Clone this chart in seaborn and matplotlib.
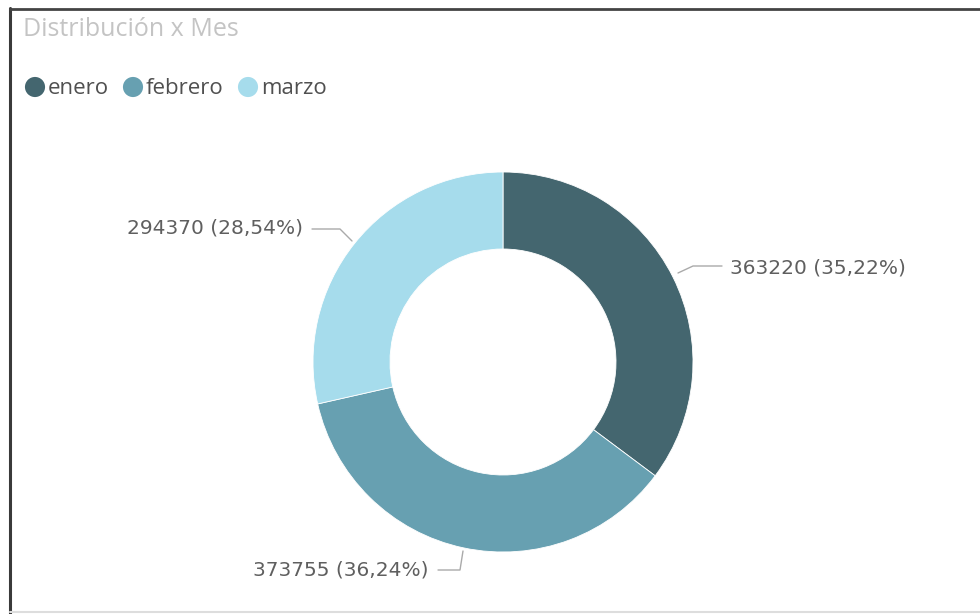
import matplotlib
matplotlib.use("Agg")
import matplotlib.pyplot as plt
import seaborn as sns

months = ["enero", "febrero", "marzo"]
values = [363220, 373755, 294370]
pct_labels = ["35,22%", "36,24%", "28,54%"]
colors = ["#44666f", "#67a0b1", "#a6dcec"]
title = "Distribución x Mes"

sns.set_theme(style="white")
plt.rcParams["font.family"] = ["Open Sans", "DejaVu Sans"]

W, H = 980, 614
fig = plt.figure(figsize=(W / 100, H / 100), dpi=100)
ax = fig.add_axes([0, 0, 1, 1])

cx, cy, R = 503, H - 362, 190
wedges, _ = ax.pie(values, colors=colors, startangle=90, counterclock=False,
                   center=(cx, cy), radius=R,
                   wedgeprops=dict(width=77, edgecolor="white", linewidth=0.6))
ax.set_xlim(0, W)
ax.set_ylim(0, H)
ax.set_aspect("equal")
ax.axis("off")

lc = "#aaaaaa"
tc = "#5f5f5f"
leaders = [
    [(678, 273), (693, 266), (722, 266)],
    [(463, 551), (460, 570), (438, 570)],
    [(352, 241), (340, 229), (312, 229)],
]
label_pos = [(730, 268, "left"), (428, 570, "right"), (303, 228, "right")]
for pts, (lx, ly, ha), v, p in zip(leaders, label_pos, values, pct_labels):
    ax.plot([q[0] for q in pts], [H - q[1] for q in pts], color=lc, lw=1)
    ax.text(lx, H - ly, f"{v} ({p})", ha=ha, va="center", color=tc,
            fontsize=14.5, family=["DejaVu Sans"])

# title
ax.text(23, H - 29, title, ha="left", va="center", color="#c4c4c4", fontsize=18)

# legend
leg_x = [(35, 48), (133, 146), (248, 261)]
for (mx, tx), m, c in zip(leg_x, months, colors):
    ax.scatter([mx], [H - 87], s=210, color=c, edgecolor="none")
    ax.text(tx, H - 88, m, ha="left", va="center", color="#505050", fontsize=16)

# frame
ax.plot([10, 10], [H - 8, 0], color="#3a3a3a", lw=2.2, clip_on=False)
ax.plot([10, W], [H - 9, H - 9], color="#444444", lw=2, clip_on=False)
ax.plot([10, W], [H - 612, H - 612], color="#dddddd", lw=1.5, clip_on=False)

fig.savefig("out.png", dpi=100)
